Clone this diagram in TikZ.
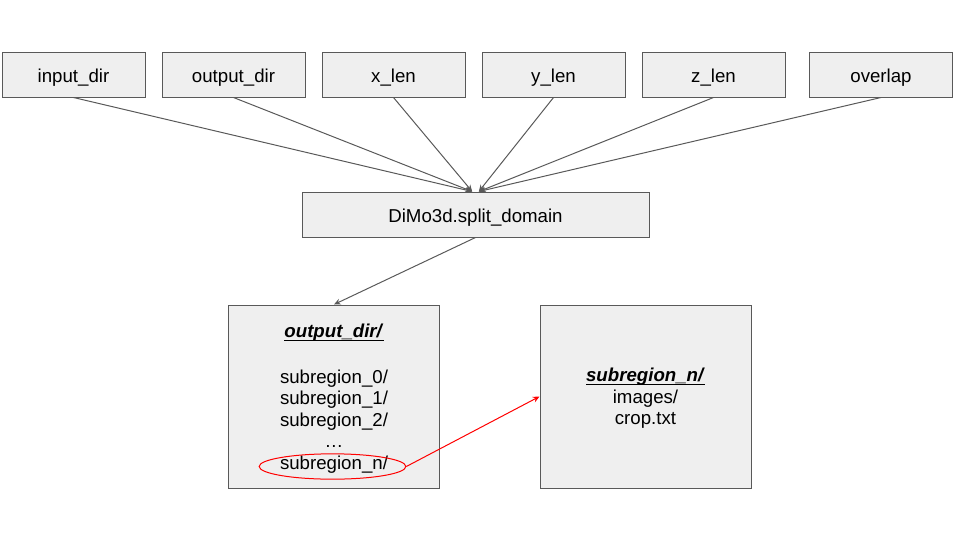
\documentclass[tikz,border=0pt]{standalone}
\usepackage{fontspec}
\setmainfont{Liberation Sans}
\usetikzlibrary{shapes.geometric,arrows.meta}
\definecolor{boxfill}{HTML}{EFEFEF}
\definecolor{boxline}{HTML}{595959}
\definecolor{redline}{HTML}{FF0000}
\newcommand\myul[1]{\setbox0\hbox{#1}\rlap{\raisebox{-2.6pt}{\rule{\wd0}{0.9pt}}}\box0}
\tikzset{
  inbox/.style={draw=boxline, fill=boxfill, line width=0.75pt, minimum width=107.25pt, minimum height=33.75pt, inner sep=0pt, text height=14.3pt, text depth=2pt, font=\fontsize{14pt}{16pt}\selectfont},
  bigbox/.style={draw=boxline, fill=boxfill, line width=0.75pt, minimum width=158.25pt, minimum height=137.25pt, inner sep=0pt},
  txt/.style={inner sep=0pt, anchor=base, font=\fontsize{14pt}{16pt}\selectfont},
  conn/.style={draw=boxline, line width=0.75pt, -{Stealth[length=5pt,width=4.5pt]}},
  redconn/.style={draw=redline, line width=0.75pt, -{Stealth[length=5pt,width=4.5pt]}},
}
\begin{document}
\begin{tikzpicture}[x=0.75pt,y=-0.75pt]
\useasboundingbox (0,0) rectangle (960,540);
\node[inbox] (in) at (73.5,74.5) {input\_dir};
\node[inbox] (out) at (233.5,74.5) {output\_dir};
\node[inbox] (xl) at (393.5,74.5) {x\_len};
\node[inbox] (yl) at (553.5,74.5) {y\_len};
\node[inbox] (zl) at (713.5,74.5) {z\_len};
\node[inbox] (ov) at (881,74.5) {overlap};
\node[inbox, minimum width=260.25pt] (split) at (475.5,214.5) {DiMo3d.split\_domain};

\draw[conn] (in.south) -- ([xshift=-2.5pt]split.north);
\draw[conn] (out.south) -- ([xshift=-2.5pt]split.north);
\draw[conn] (xl.south) -- ([xshift=-2.5pt]split.north);
\draw[conn] (yl.south) -- ([xshift=2.5pt]split.north);
\draw[conn] (zl.south) -- ([xshift=2.5pt]split.north);
\draw[conn] (ov.south) -- ([xshift=2.5pt]split.north);

\node[bigbox] (obox) at (334,396.5) {};
\node[bigbox] (sbox) at (645.5,396.5) {};
\draw[conn] (split.south) -- (obox.north);

\node[txt] (ot) at (334,337.3) {\myul{\textbf{\textit{output\_dir/}}}};
\node[txt] (s0) at (334,383.3) {subregion\_0/};
\node[txt] (s1) at (334,404.8) {subregion\_1/};
\node[txt] (s2) at (334,426.3) {subregion\_2/};
\node[txt] (dots) at (334,447.8) {…};
\node[txt] (sn) at (334,469.3) {subregion\_n/};
\node[ellipse, draw=redline, line width=0.75pt, minimum width=110pt, minimum height=19pt, inner sep=0pt] (ell) at (332.5,466.5) {};

\node[txt] (st) at (645.5,381.7) {\myul{\textbf{\textit{subregion\_n/}}}};
\node[txt] (im) at (645.5,403.2) {images/};
\node[txt] (cr) at (645.5,424.7) {crop.txt};

\draw[redconn] (ell.east) -- (sbox.west);
\end{tikzpicture}
\end{document}
